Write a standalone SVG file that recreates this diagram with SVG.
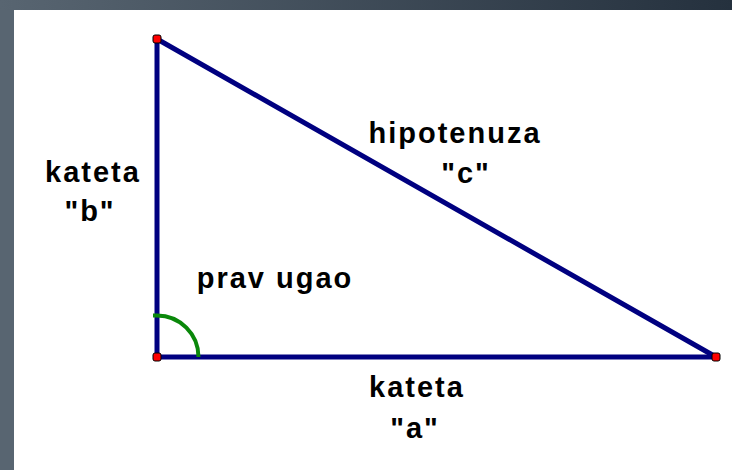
<svg xmlns="http://www.w3.org/2000/svg" width="732" height="470" viewBox="0 0 732 470">
  <defs>
    <linearGradient id="frame" x1="0" y1="0" x2="1" y2="0">
      <stop offset="0" stop-color="#586571"/>
      <stop offset="1" stop-color="#25313e"/>
    </linearGradient>
  </defs>
  <style>
    .edge { stroke: #000080; stroke-width: 5; fill: none; stroke-linecap: round; }
    .pt { fill: #ff0000; stroke: #000000; stroke-width: 1; }
    .lbl { font-family: "Liberation Sans", Arial, sans-serif; font-weight: bold; font-size: 29px; letter-spacing: 2px; fill: #000000; text-anchor: middle; }
    .angle { stroke: #0a880a; stroke-width: 4; fill: none; }
  </style>
  <rect x="0" y="0" width="732" height="470" fill="url(#frame)"/>
  <rect x="0" y="10" width="14" height="460" fill="#586571"/>
  <rect x="14" y="10" width="718" height="460" fill="#ffffff"/>

  <g id="connectors">
    <line class="edge" x1="157" y1="39" x2="157" y2="357"/>
    <line class="edge" x1="157" y1="357" x2="716" y2="357"/>
    <line class="edge" x1="157" y1="39" x2="716" y2="357"/>
  </g>

  <g id="right-angle">
    <path class="angle" d="M153 315.5 L157 315.5 A41.5 41.5 0 0 1 198.5 357"/>
  </g>

  <g id="vertex-top"><rect class="pt" x="153" y="35" width="8" height="8" rx="2"/></g>
  <g id="vertex-bottom-left"><rect class="pt" x="153" y="353" width="8" height="8" rx="2"/></g>
  <g id="vertex-right"><rect class="pt" x="712" y="353" width="8" height="8" rx="2"/></g>

  <g id="label-b">
    <text class="lbl" x="93" y="182">kateta</text>
    <text class="lbl" x="90" y="221">"b"</text>
  </g>
  <g id="label-c">
    <text class="lbl" x="455" y="143">hipotenuza</text>
    <text class="lbl" x="466" y="183">"c"</text>
  </g>
  <g id="label-angle">
    <text class="lbl" x="275" y="288">prav ugao</text>
  </g>
  <g id="label-a">
    <text class="lbl" x="417" y="397">kateta</text>
    <text class="lbl" x="415" y="438">"a"</text>
  </g>
</svg>
